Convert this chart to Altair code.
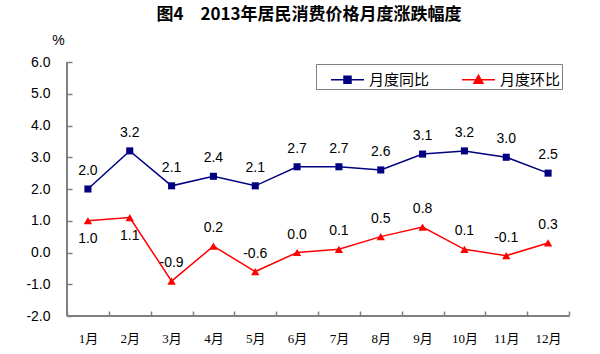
import altair as alt
import pandas as pd

months = ["1月", "2月", "3月", "4月", "5月", "6月", "7月", "8月", "9月", "10月", "11月", "12月"]
yoy = [2.0, 3.2, 2.1, 2.4, 2.1, 2.7, 2.7, 2.6, 3.1, 3.2, 3.0, 2.5]
mom = [1.0, 1.1, -0.9, 0.2, -0.6, 0.0, 0.1, 0.5, 0.8, 0.1, -0.1, 0.3]
series_names = ["月度同比", "月度环比"]
mom_labels_below = ["1月", "2月"]
y_ticks = [-2, -1, 0, 1, 2, 3, 4, 5, 6]

rows = []
for m, v in zip(months, yoy):
    rows.append({"month": m, "series": series_names[0], "value": v,
                 "below": False})
for m, v in zip(months, mom):
    rows.append({"month": m, "series": series_names[1], "value": v,
                 "below": m in mom_labels_below})
df = pd.DataFrame(rows)

W, H = 502, 254
BLUE, RED = "#000080", "#ff0000"
AX = "#808080"
CJK = "Noto Sans CJK SC"

xenc = alt.X("month:N", sort=months,
             scale=alt.Scale(type="band", paddingInner=0, paddingOuter=0),
             axis=alt.Axis(title=None, labelAngle=0, domain=False, tickBand="extent",
                           tickColor=AX, tickWidth=1.5, tickSize=5, offset=-5,
                           labelPadding=16, labelFont="Liberation Serif, " + CJK,
                           labelFontSize=13, labelColor="#000"))
yenc = alt.Y("value:Q", scale=alt.Scale(domain=[-2, 6], nice=False, zero=False),
             axis=alt.Axis(values=y_ticks, domain=False, grid=False,
                           labelExpr="replace(format(datum.value, '.1f'), '\u2212', '-')",
                           tickColor=AX, tickWidth=1.5, tickSize=5, offset=-5,
                           labelPadding=17, labelFont="Liberation Sans", labelFontSize=14,
                           labelColor="#000",
                           title="%", titleAngle=0, titleAlign="center",
                           titleBaseline="middle", titleX=-14, titleY=-22,
                           titleFont="Liberation Sans", titleFontSize=14,
                           titleFontWeight="normal"))

base = alt.Chart(df).transform_calculate(
    label="replace(format(datum.value, '.1f'), '\u2212', '-')")

sq = "M-1.22,0H1.22M-0.26,-0.26H0.26V0.26H-0.26Z"
tri = "M-1.22,0H1.22M0,-0.33L0.33,0.26H-0.33Z"

legend = alt.Legend(
    orient="none", legendX=249, legendY=2, direction="horizontal",
    strokeColor="#808080", padding=1, labelFont=CJK, labelFontSize=15,
    labelColor="#000", labelOffset=7, columnPadding=18, symbolSize=729,
    symbolOffset=16, symbolStrokeWidth=1.5, symbolOpacity=1)

yaxis_line = alt.Chart(df).mark_rule(color=AX, strokeWidth=2).encode(
    x=alt.value(0), y=alt.value(0), y2=alt.value(H))
xaxis_line = alt.Chart(df).mark_rule(color=AX, strokeWidth=2).encode(
    x=alt.value(0), x2=alt.value(W), y=alt.value(H))

yoy_only = base.transform_filter(alt.datum.series == series_names[0])
mom_only = base.transform_filter(alt.datum.series == series_names[1])

line_yoy = yoy_only.mark_line(strokeWidth=1.5, color=BLUE).encode(x=xenc, y=yenc)
line_mom = mom_only.mark_line(strokeWidth=1.5, color=RED).encode(x=xenc, y=yenc)

pts_yoy = yoy_only.mark_point(filled=True, opacity=1, shape="square", size=50,
                              color=BLUE).encode(x=xenc, y=yenc)
pts_mom = mom_only.mark_point(filled=True, opacity=1, shape="triangle-up", size=70,
                              color=RED).encode(x=xenc, y=yenc)

legend_layer = base.mark_point(opacity=0).encode(
    x=xenc, y=yenc,
    fill=alt.Fill("series:N", scale=alt.Scale(domain=series_names, range=[BLUE, RED]),
                  title=None, legend=legend),
    stroke=alt.Stroke("series:N", scale=alt.Scale(domain=series_names, range=[BLUE, RED]),
                      title=None, legend=legend),
    shape=alt.Shape("series:N", scale=alt.Scale(domain=series_names, range=[sq, tri]),
                    title=None, legend=legend))

text_above = base.transform_filter("!datum.below").mark_text(
    dy=-18, font="Liberation Sans", fontSize=14, color="#000", baseline="middle").encode(
    x=xenc, y=yenc, text="label:N")
text_below = base.transform_filter("datum.below").mark_text(
    dy=18, font="Liberation Sans", fontSize=14, color="#000", baseline="middle").encode(
    x=xenc, y=yenc, text="label:N")

chart = alt.layer(yaxis_line, xaxis_line, line_yoy, line_mom, pts_yoy, pts_mom,
                  text_above, text_below, legend_layer).properties(
    width=W, height=H,
    autosize=alt.AutoSizeParams(type="none"),
    padding={"left": 67, "top": 62, "right": 31, "bottom": 38},
    title=alt.TitleParams("图4　2013年居民消费价格月度涨跌幅度", font=CJK, fontSize=17,
                          fontWeight="bold", anchor="middle", frame="group",
                          dx=-9, offset=9, color="#000"),
    background="white",
).configure_view(stroke=None)

chart.save("out.html", embed_options={"renderer": "svg", "actions": False})
